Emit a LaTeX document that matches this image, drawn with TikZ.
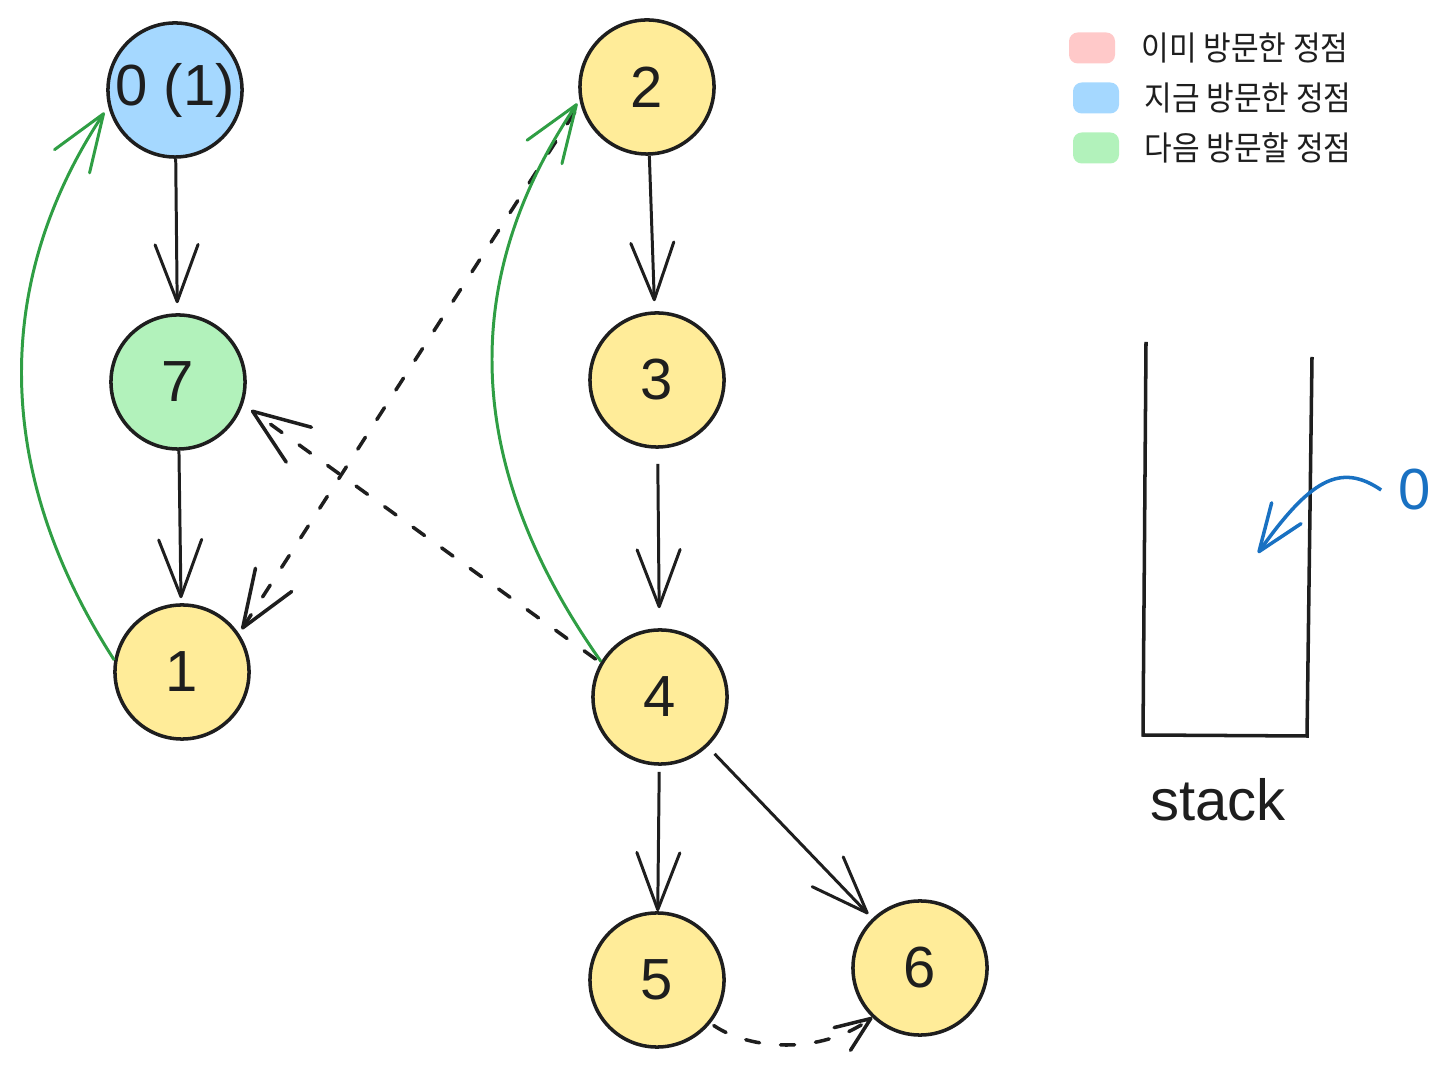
\documentclass[tikz,border=0pt]{standalone}
\usepackage{fontspec}
\setmainfont{Liberation Sans}
\newfontfamily\krfont[FakeStretch=0.9]{Noto Sans CJK KR}
\usetikzlibrary{arrows.meta,positioning}
\definecolor{inkblack}{HTML}{1E1E1E}
\definecolor{visityellow}{HTML}{FFEC99}
\definecolor{nowblue}{HTML}{A5D8FF}
\definecolor{nextgreen}{HTML}{B2F2BB}
\definecolor{donepink}{HTML}{FFC9C9}
\definecolor{pathgreen}{HTML}{2F9E44}
\definecolor{pushblue}{HTML}{1971C2}
\tikzset{
  vertex/.style={circle,draw=inkblack,line width=1pt,minimum size=1.34cm,inner sep=0pt,
    font=\fontsize{16.5}{19}\selectfont,text=inkblack},
  edge/.style={draw=inkblack,line width=0.85pt,-{Straight Barb[length=5.7mm,width=4.3mm,round]}},
  backedge/.style={edge,line width=1pt,dash pattern=on 4pt off 6pt,line cap=round},
  walk/.style={draw=pathgreen,line width=0.85pt,-{Straight Barb[length=5.7mm,width=4.2mm,round]}},
  legbox/.style={draw=none,rounded corners=2.5pt,minimum width=0.46cm,minimum height=0.31cm,inner sep=0pt},
  legtext/.style={inner sep=0pt,font=\krfont\fontsize{9.5}{11}\selectfont,text=inkblack}
}
\begin{document}
\begin{tikzpicture}[x=0.01cm,y=-0.01cm]
  \useasboundingbox (0,0) rectangle (1452,1068);
  % vertices
  \node[vertex,fill=nowblue] (v0) at (175,90) {0 (1)};
  \node[vertex,fill=visityellow] (v2) at (647,87) {2};
  \node[vertex,fill=nextgreen] (v7) at (178,382) {7};
  \node[vertex,fill=visityellow] (v3) at (657,380) {3};
  \node[vertex,fill=visityellow] (v1) at (182,672) {1};
  \node[vertex,fill=visityellow] (v4) at (660,697) {4};
  \node[vertex,fill=visityellow] (v5) at (657,980) {5};
  \node[vertex,fill=visityellow] (v6) at (920,968) {6};
  % tree edges
  \draw[edge,shorten >=1mm] (v0) -- (v7);
  \draw[edge,shorten >=0.5mm] (v7) -- (v1);
  \draw[edge,shorten >=1mm] (v2) -- (v3);
  \draw[edge,shorten <=1.5mm,shorten >=2mm] (v3) -- (v4);
  \draw[edge,shorten <=0.6mm] (v4) -- (v5);
  \draw[edge,shorten <=1mm,shorten >=0.6mm] (v4) -- (v6);
  % dashed edges
  \draw[backedge,shorten <=0.6mm,shorten >=1mm] (v4.150) -- (v7.-19);
  \draw[backedge,shorten <=1mm,shorten >=0.5mm] (v2.194) -- (v1.34);
  \draw[backedge,-{Straight Barb[length=3.5mm,width=2.8mm,round]},shorten <=0.4mm]
    (v5.-39) .. controls (750,1050) and (820,1055) .. (v6.226);
  % green walk
  \draw[walk,shorten >=0.7mm] (v1.170) .. controls (-15,460) and (0,270) .. (v0.194);
  \draw[walk,shorten >=0.4mm] (v4.149) .. controls (455,455) and (465,270) .. (v2.191);
  % stack
  \draw[inkblack,line width=1pt] (1146,342) -- (1143,735) -- (1307,736) -- (1312,357);
  \node[font=\fontsize{16.5}{19}\selectfont,text=inkblack] (stacklbl) at (1218,800) {stack};
  \node[font=\fontsize{16.5}{19}\selectfont,text=pushblue,inner sep=0pt] (push0) at (1415,490) {0};
  \coordinate (pushin) at (1258,553);
  \draw[pushblue,line width=1pt,-{Straight Barb[length=4.7mm,width=3.6mm,round]}]
    ([xshift=-1.7mm]push0.west) .. controls (1340,462) and (1310,480) .. (pushin);
  % legend
  \node[legbox,fill=donepink] (lgdone) at (1092,48) {};
  \node[legtext,right=0.25cm of lgdone] (txtdone) {이미 방문한 정점};
  \node[legbox,fill=nowblue] (lgnow) at (1096,98) {};
  \node[legtext,right=0.24cm of lgnow] (txtnow) {지금 방문한 정점};
  \node[legbox,fill=nextgreen] (lgnext) at (1096,148) {};
  \node[legtext,right=0.24cm of lgnext] (txtnext) {다음 방문할 정점};
\end{tikzpicture}
\end{document}
